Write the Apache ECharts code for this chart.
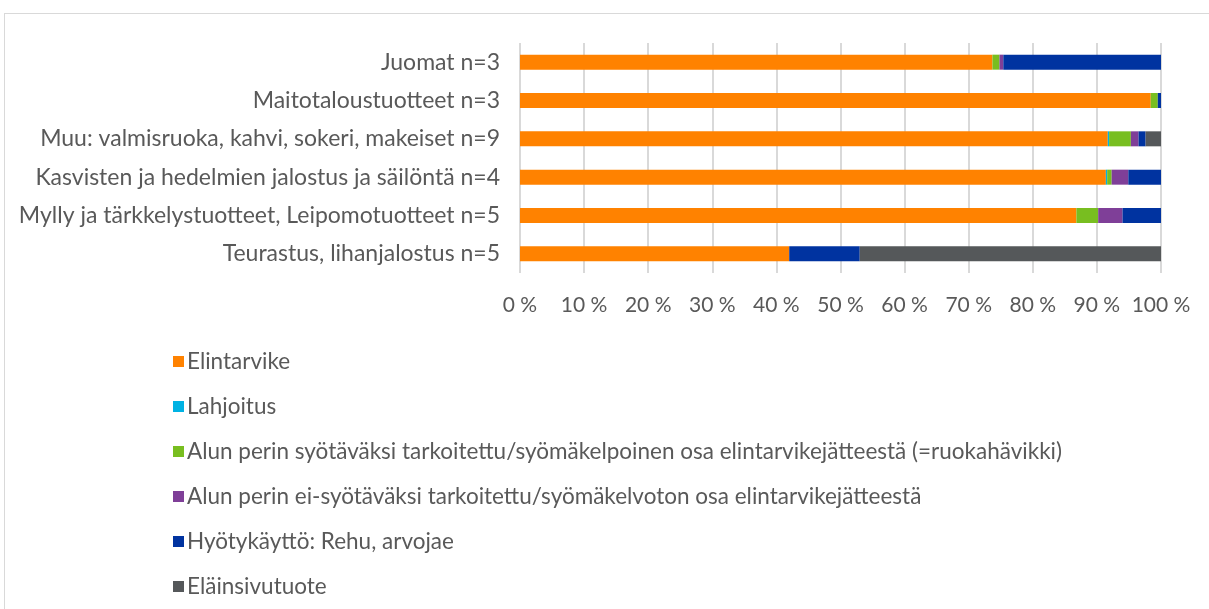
<!DOCTYPE html>
<html>
<head>
<meta charset="utf-8">
<script src="https://cdn.jsdelivr.net/npm/echarts@6/dist/echarts.min.js"></script>
<style>
  html, body { margin: 0; padding: 0; background: #fff; }
  #frame { position: absolute; left: 4px; top: 13px; width: 1220px; height: 620px; border: 1px solid #d9d9d9; box-sizing: border-box; }
  #chart { position: absolute; left: 0; top: 0; width: 1209px; height: 609px; }
</style>
</head>
<body>
<div id="frame"></div>
<div id="chart"></div>
<script>
// categories top to bottom
var categories = [
    "Juomat n=3",
    "Maitotaloustuotteet n=3",
    "Muu: valmisruoka, kahvi, sokeri, makeiset n=9",
    "Kasvisten ja hedelmien jalostus ja säilöntä n=4",
    "Mylly ja tärkkelystuotteet, Leipomotuotteet n=5",
    "Teurastus, lihanjalostus n=5"
];

var seriesNames = [
    "Elintarvike",
    "Lahjoitus",
    "Alun perin syötäväksi tarkoitettu/syömäkelpoinen osa elintarvikejätteestä (=ruokahävikki)",
    "Alun perin ei-syötäväksi tarkoitettu/syömäkelvoton osa elintarvikejätteestä",
    "Hyötykäyttö: Rehu, arvojae",
    "Eläinsivutuote"
];

// percentages per category (same order as categories)
var elintarvike = [73.7, 98.4, 91.7, 91.4, 86.8, 42.0];
var lahjoitus   = [0, 0, 0.2, 0.2, 0, 0];
var syotava     = [1.1, 1.1, 3.4, 0.7, 3.4, 0];
var eiSyotava   = [0.6, 0, 1.2, 2.6, 3.8, 0];
var hyotykaytto = [24.6, 0.5, 1.1, 5.1, 6.0, 11.0];
var elainsivu   = [0, 0, 2.4, 0, 0, 47.0];

var xTicks = [0, 10, 20, 30, 40, 50, 60, 70, 80, 90, 100];

var colors = ["#ff8200", "#00b2e3", "#78be20", "#7f3f98", "#0033a0", "#55585a"];
var values = [elintarvike, lahjoitus, syotava, eiSyotava, hyotykaytto, elainsivu];

var font = "Lato, 'Noto Sans', sans-serif";

var chart = echarts.init(document.getElementById("chart"));

var series = seriesNames.map(function (name, i) {
    return {
        name: name,
        type: "bar",
        stack: "total",
        barWidth: 15,
        itemStyle: { color: colors[i] },
        data: values[i]
    };
});

chart.setOption({
    animation: false,
    color: colors,
    grid: { left: 520, right: 48, top: 43, height: 230 },
    xAxis: {
        type: "value",
        min: xTicks[0],
        max: xTicks[xTicks.length - 1],
        interval: 10,
        axisLine: { show: false },
        axisTick: { show: false },
        splitLine: { lineStyle: { color: "#d9d9d9", width: 2 } },
        axisLabel: {
            margin: 22,
            color: "#595959",
            fontFamily: font,
            fontSize: 21,
            formatter: function (v) { return v + " %"; }
        }
    },
    yAxis: {
        type: "category",
        inverse: true,
        data: categories,
        axisLine: { show: false },
        axisTick: { show: false },
        axisLabel: {
            margin: 20,
            color: "#595959",
            fontFamily: font,
            fontSize: 23
        }
    },
    legend: {
        orient: "vertical",
        left: 168,
        top: 345,
        height: 270,
        itemWidth: 11,
        itemHeight: 11,
        itemGap: 22,
        icon: "rect",
        data: seriesNames,
        textStyle: {
            color: "#595959",
            fontFamily: font,
            fontSize: 22.5,
            lineHeight: 20,
            padding: [0, 0, 0, -2]
        }
    },
    series: series
});
</script>
</body>
</html>
